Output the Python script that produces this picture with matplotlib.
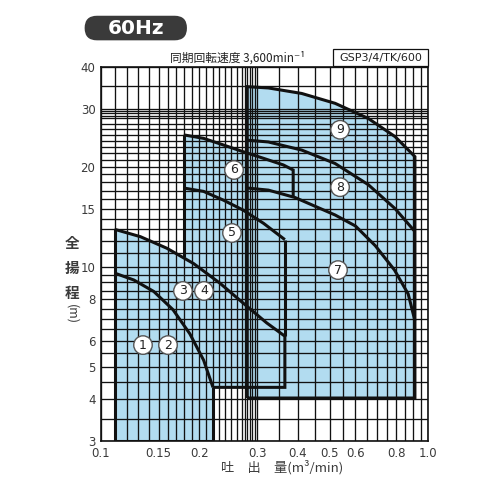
import numpy as np
import matplotlib.pyplot as plt
from matplotlib.patches import FancyBboxPatch, Rectangle

plt.rcParams['font.family'] = ['Noto Sans CJK JP', 'DejaVu Sans']

# flow (m3/min) and head (m)
q12 = [0.110, 0.126, 0.145, 0.166, 0.187, 0.206, 0.220]
h12 = [9.6, 9.15, 8.45, 7.45, 6.3, 5.25, 4.35]

q34 = [0.110, 0.132, 0.159, 0.192, 0.231, 0.272, 0.321, 0.365]
h34 = [13.0, 12.35, 11.4, 10.25, 8.95, 7.8, 6.8, 6.2]

q5 = [0.179, 0.206, 0.237, 0.272, 0.314, 0.365]
h5 = [17.3, 16.9, 15.9, 14.85, 13.55, 12.1]

q6 = [0.179, 0.206, 0.237, 0.272, 0.314, 0.361, 0.387]
h6 = [25.0, 24.4, 23.3, 22.25, 21.25, 20.3, 19.6]

q7 = [0.280, 0.325, 0.392, 0.520, 0.600, 0.690, 0.790, 0.870, 0.912]
h7 = [17.3, 17.05, 16.2, 14.35, 13.3, 11.6, 9.8, 8.3, 6.9]

q8 = [0.280, 0.325, 0.411, 0.520, 0.657, 0.793, 0.912]
h8 = [24.1, 23.8, 22.5, 20.5, 17.7, 15.0, 12.8]

q9 = [0.280, 0.325, 0.411, 0.520, 0.657, 0.793, 0.912]
h9 = [34.9, 34.6, 33.3, 31.1, 28.0, 24.7, 21.5]

h_min = 3.0        # bottom of pumps 1,2
h34_min = 4.35     # bottom of 3,4,5
h789_min = 4.04    # bottom of 7,8,9
h6_cut = 16.2      # where the right edge of 6 meets curve 7
h5_cut = 10.7      # where the left edge of 5 meets curve 3,4

label_text = ['1', '2', '3', '4', '5', '6', '7', '8', '9']
label_q = [0.1344, 0.1603, 0.1781, 0.2065, 0.2515, 0.2551, 0.5306, 0.5383, 0.5383]
label_h = [5.83, 5.83, 8.48, 8.48, 12.67, 19.6, 9.8, 17.4, 25.9]

xticks = [0.1, 0.15, 0.2, 0.3, 0.4, 0.5, 0.6, 0.8, 1.0]
xtick_labels = ['0.1', '0.15', '0.2', '0.3', '0.4', '0.5', '0.6', '0.8', '1.0']
yticks = [3, 4, 5, 6, 8, 10, 15, 20, 30, 40]

fill_c = '#b2dcf0'
line_c = '#111111'
text_c = '#3a3a3a'

fig = plt.figure(figsize=(4.92, 4.92), dpi=100)
ax = fig.add_axes([101/492, 51/492, 327/492, 374/492])
ax.set_xscale('log')
ax.set_yscale('log')
ax.set_xlim(0.1, 1.0)
ax.set_ylim(3, 40)

# shaded areas
ax.fill([q12[0]] + q34 + [q34[-1], q12[-1], q12[-1], q12[0]],
        [h_min] + h34 + [h34_min, h34_min, h_min, h_min], color=fill_c, lw=0, zorder=1)
ax.fill(q5 + [q5[-1], q5[0]], h5 + [h34_min, h34_min], color=fill_c, lw=0, zorder=1)
ax.fill(q6 + [q6[-1], q6[0]], h6 + [h34_min, h34_min], color=fill_c, lw=0, zorder=1)
ax.fill(q9 + [q9[-1], q9[0]], h9 + [h789_min, h789_min], color=fill_c, lw=0, zorder=1)

# log paper grid
hgrid = np.concatenate([np.arange(3, 10, 0.5), np.arange(10, 31, 1), [28.5, 29.5, 35, 40]])
vgrid = np.concatenate([np.arange(0.10, 0.30, 0.01), [0.275, 0.285, 0.295],
                        np.arange(0.30, 1.001, 0.05)])
for v in hgrid:
    ax.axhline(v, color=line_c, lw=0.95, zorder=2)
for v in vgrid:
    ax.axvline(v, color=line_c, lw=0.95, zorder=2)

# boundaries
lw = 2.2
kw = dict(color=line_c, lw=lw, zorder=3, solid_capstyle='butt', solid_joinstyle='miter')
ax.plot([q12[0], q12[0], q12[-1], q12[-1]], [h34[0], h_min, h_min, h34_min], **kw)
ax.plot(q12, h12, **kw)
ax.plot(q34 + [q34[-1], q12[-1]], h34 + [h34_min, h34_min], **kw)
ax.plot(q5, h5, **kw)
ax.plot([q5[0], q5[0]], [h6[0], h5_cut], **kw)
ax.plot([q5[-1], q5[-1]], [h5[-1], h34[-1]], **kw)
ax.plot(q6 + [q6[-1]], h6 + [h6_cut], **kw)
ax.plot([q9[0], q9[0]] + q9 + [q9[-1], q9[0]],
        [h789_min, h9[0]] + h9 + [h789_min, h789_min], **kw)
ax.plot(q8, h8, **kw)
ax.plot(q7, h7, **kw)

for t, q, h in zip(label_text, label_q, label_h):
    ax.text(q, h, t, ha='center', va='center', fontsize=9, color='#222222',
            family='DejaVu Sans', zorder=5,
            bbox=dict(boxstyle='circle,pad=0.22', fc='white', ec='#555555', lw=1.0))

ax.minorticks_off()
ax.set_xticks(xticks)
ax.set_xticklabels(xtick_labels, family='DejaVu Sans')
ax.set_yticks(yticks)
ax.set_yticklabels([str(v) for v in yticks], family='DejaVu Sans')
ax.tick_params(length=0, labelsize=8.5, labelcolor=text_c, pad=4)
for s in ax.spines.values():
    s.set_linewidth(1.2)
    s.set_color(line_c)
    s.set_zorder(4)

# axis titles
for ch, yy in zip(['全', '揚', '程'], [0.506, 0.455, 0.404]):
    fig.text(72/492, yy, ch, ha='center', va='center', fontsize=10.5,
             fontweight='bold', color=text_c)
fig.text(72/492, 0.362, '(m)', ha='center', va='center', fontsize=9,
         color=text_c, rotation=-90)
fig.text(282/492, 25/492, '吐　出　量(m³/min)', ha='center', va='center',
         fontsize=9.5, color=text_c)

# header
fig.patches.append(FancyBboxPatch((0.172, 0.918), 0.208, 0.050,
                                  boxstyle='round,pad=0,rounding_size=0.025',
                                  transform=fig.transFigure, fc='#3a3a3a', ec='none'))
fig.text(0.276, 0.943, '60Hz', ha='center', va='center', fontsize=14.5,
         fontweight='bold', color='white', family='DejaVu Sans')
fig.text(0.482, 0.882, '同期回転速度 3,600min⁻¹', ha='center', va='center',
         fontsize=8.5, color='#222222')
fig.patches.append(Rectangle((0.677, 0.866), 0.193, 0.034, transform=fig.transFigure,
                             fc='white', ec=line_c, lw=0.9))
fig.text(0.7735, 0.883, 'GSP3/4/TK/600', ha='center', va='center', fontsize=8,
         color='#222222', family='DejaVu Sans')

fig.savefig('out.png', dpi=100)
